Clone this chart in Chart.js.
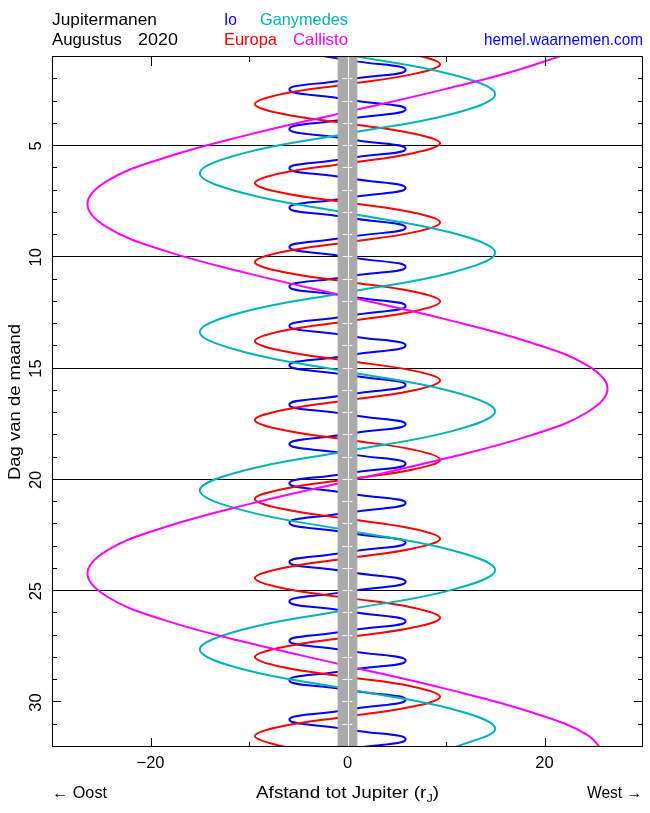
<!DOCTYPE html>
<html><head><meta charset="utf-8">
<script src="https://cdn.jsdelivr.net/npm/chart.js@4.4.1/dist/chart.umd.min.js"></script>
<style>html,body{margin:0;padding:0;background:#fff;}canvas{display:block;}</style>
</head><body>
<canvas id="c" width="650" height="813"></canvas>
<script>
// ---- data (day of month, distance to Jupiter in Jupiter radii; + = west) ----
const dayLabels = [5, 10, 15, 20, 25, 30];
const gridDays = [5, 10, 15, 20, 25];
const distLabels = [-20, 0, 20];

const ioPts = [
[0.70,-5.9],[1.14,0],[1.58,5.9],[2.02,0],
[2.46,-5.9],[2.91,0],[3.35,5.9],[3.79,0],
[4.23,-5.9],[4.68,0],[5.12,5.9],[5.56,0],
[6.00,-5.9],[6.44,0],[6.89,5.9],[7.33,0],
[7.77,-5.9],[8.21,0],[8.66,5.9],[9.10,0],
[9.54,-5.9],[9.98,0],[10.43,5.9],[10.87,0],
[11.31,-5.9],[11.75,0],[12.19,5.9],[12.64,0],
[13.08,-5.9],[13.52,0],[13.96,5.9],[14.41,0],
[14.85,-5.9],[15.29,0],[15.73,5.9],[16.17,0],
[16.62,-5.9],[17.06,0],[17.50,5.9],[17.94,0],
[18.39,-5.9],[18.83,0],[19.27,5.9],[19.71,0],
[20.15,-5.9],[20.60,0],[21.04,5.9],[21.48,0],
[21.92,-5.9],[22.37,0],[22.81,5.9],[23.25,0],
[23.69,-5.9],[24.13,0],[24.58,5.9],[25.02,0],
[25.46,-5.9],[25.90,0],[26.35,5.9],[26.79,0],
[27.23,-5.9],[27.67,0],[28.12,5.9],[28.56,0],
[29.00,-5.9],[29.44,0],[29.88,5.9],[30.33,0],
[30.77,-5.9],[31.21,0],[31.65,5.9],[32.10,0]
];

const europaPts = [
[0.00,-6.65],[0.44,0],[0.89,6.65],
[1.33,9.4],[1.77,6.65],[2.22,0],[2.66,-6.65],[3.11,-9.4],[3.55,-6.65],[3.99,0],[4.44,6.65],
[4.88,9.4],[5.32,6.65],[5.77,0],[6.21,-6.65],[6.66,-9.4],[7.10,-6.65],[7.54,0],[7.99,6.65],
[8.43,9.4],[8.88,6.65],[9.32,0],[9.76,-6.65],[10.21,-9.4],[10.65,-6.65],[11.10,0],[11.54,6.65],
[11.98,9.4],[12.43,6.65],[12.87,0],[13.31,-6.65],[13.76,-9.4],[14.20,-6.65],[14.65,0],[15.09,6.65],
[15.53,9.4],[15.98,6.65],[16.42,0],[16.87,-6.65],[17.31,-9.4],[17.75,-6.65],[18.20,0],[18.64,6.65],
[19.09,9.4],[19.53,6.65],[19.97,0],[20.42,-6.65],[20.86,-9.4],[21.30,-6.65],[21.75,0],[22.19,6.65],
[22.64,9.4],[23.08,6.65],[23.52,0],[23.97,-6.65],[24.41,-9.4],[24.86,-6.65],[25.30,0],[25.74,6.65],
[26.19,9.4],[26.63,6.65],[27.07,0],[27.52,-6.65],[27.96,-9.4],[28.41,-6.65],[28.85,0],[29.29,6.65],
[29.74,9.4],[30.18,6.65],[30.63,0],[31.07,-6.65],[31.51,-9.4],[31.96,-6.65],[32.40,0]
];

const ganymedePts = [
[-0.88,-15],[-0.01,-10.6],[0.90,0],[1.79,10.6],
[2.67,15],[3.56,10.6],[4.44,0],[5.33,-10.6],
[6.22,-15],[7.11,-10.6],[8.01,0],[8.90,10.6],
[9.79,15],[10.68,10.6],[11.57,0],[12.46,-10.6],
[13.35,-15],[14.24,-10.6],[15.14,0],[16.03,10.6],
[16.92,15],[17.81,10.6],[18.70,0],[19.59,-10.6],
[20.48,-15],[21.37,-10.6],[22.27,0],[23.16,10.6],
[24.05,15],[24.94,10.6],[25.83,0],[26.72,-10.6],
[27.62,-15],[28.51,-10.6],[29.40,0],[30.29,10.6],
[31.18,15],[32.07,10.6]
];

const callistoPts = [
[-0.69,26.4],[0.35,24.39],[1.39,18.67],[2.42,10.1],
[3.46,0],[4.50,-10.1],[5.54,-18.67],[6.57,-24.39],
[7.61,-26.4],[8.65,-24.39],[9.69,-18.67],[10.72,-10.1],
[11.76,0],[12.80,10.1],[13.84,18.67],[14.87,24.39],
[15.91,26.4],[16.95,24.39],[17.99,18.67],[19.02,10.1],
[20.06,0],[21.10,-10.1],[22.14,-18.67],[23.17,-24.39],
[24.21,-26.4],[25.25,-24.39],[26.29,-18.67],[27.32,-10.1],
[28.36,0],[29.40,10.1],[30.44,18.67],[31.47,24.39],
[32.51,26.4]
];

const FONT = '"Liberation Sans", Arial, Helvetica, sans-serif';
const FS = 16.5;
const COL = { io:'#0000ff', europa:'#ff0000', ganymede:'#00b4b4', callisto:'#ff00ff', band:'#aaaaaa' };

const toXY = arr => arr.map(p => ({ x: p[1], y: p[0] }));
const ds = (pts, color, tension, order) => ({
  data: toXY(pts), showLine: true, borderColor: color, borderWidth: 2,
  pointRadius: 0, pointHoverRadius: 0, tension: tension, fill: false, order: order
});

// draw text stretched/compressed horizontally to a target width
function fitText(ctx, txt, x, y, w, align) {
  const m = ctx.measureText(txt).width;
  const s = w / m;
  const x0 = align === 'right' ? x - w : (align === 'center' ? x - w / 2 : x);
  ctx.save();
  ctx.translate(x0, y); ctx.scale(s, 1);
  ctx.textAlign = 'left';
  ctx.fillText(txt, 0, 0);
  ctx.restore();
}

const overlay = {
  id: 'overlay',
  beforeDatasetsDraw(chart) {
    const { ctx, chartArea: a, scales: { y } } = chart;
    ctx.save();
    ctx.strokeStyle = '#000'; ctx.lineWidth = 1;
    gridDays.forEach(d => {
      const py = Math.round(y.getPixelForValue(d)) - 0.5;
      ctx.beginPath(); ctx.moveTo(a.left, py); ctx.lineTo(a.right, py); ctx.stroke();
    });
    ctx.restore();
  },
  afterDatasetsDraw(chart) {
    const { ctx, chartArea: a, scales: { x, y } } = chart;
    ctx.save();
    // Jupiter band
    const x0 = x.getPixelForValue(-1), x1 = x.getPixelForValue(1);
    ctx.fillStyle = COL.band;
    ctx.fillRect(x0, a.top, x1 - x0, a.bottom - a.top);
    ctx.strokeStyle = '#fff'; ctx.lineWidth = 1;
    const xc = Math.round(x.getPixelForValue(0)) + 0.5;
    ctx.beginPath(); ctx.moveTo(xc, a.top); ctx.lineTo(xc, a.bottom); ctx.stroke();
    const dx0 = x.getPixelForValue(-0.5), dx1 = x.getPixelForValue(0.5);
    for (let d = 2; d <= 31; d++) {
      const py = Math.round(y.getPixelForValue(d)) - 0.5;
      ctx.beginPath(); ctx.moveTo(dx0, py); ctx.lineTo(dx1, py); ctx.stroke();
    }
    // frame
    ctx.strokeStyle = '#000'; ctx.lineWidth = 1;
    ctx.strokeRect(a.left + 0.5, a.top - 0.5, a.right - a.left - 1, a.bottom - a.top);
    // x ticks (inside, top and bottom)
    [-20, -10, 10, 20].forEach(v => {
      const px = Math.round(x.getPixelForValue(v)) + 0.5;
      const len = (v % 20 === 0) ? 9 : 5;
      ctx.beginPath();
      ctx.moveTo(px, a.bottom); ctx.lineTo(px, a.bottom - len);
      ctx.moveTo(px, a.top); ctx.lineTo(px, a.top + len);
      ctx.stroke();
    });
    // y ticks (inside, left and right)
    for (let d = 2; d <= 31; d++) {
      if (gridDays.includes(d)) continue;
      const py = Math.round(y.getPixelForValue(d)) - 0.5;
      const len = (d % 5 === 0) ? 9 : 5;
      ctx.beginPath();
      ctx.moveTo(a.left, py); ctx.lineTo(a.left + len, py);
      ctx.moveTo(a.right, py); ctx.lineTo(a.right - len, py);
      ctx.stroke();
    }
    ctx.restore();
  },
  afterDraw(chart) {
    const { ctx, chartArea: a } = chart;
    ctx.save();
    ctx.font = FS + 'px ' + FONT;
    ctx.textBaseline = 'alphabetic';
    ctx.fillStyle = '#000';
    fitText(ctx, 'Jupitermanen', 52, 25, 105, 'left');
    fitText(ctx, 'Augustus', 52, 45, 70, 'left');
    fitText(ctx, '2020', 138, 45, 40, 'left');
    ctx.fillStyle = COL.io; fitText(ctx, 'Io', 224, 25, 13, 'left');
    ctx.fillStyle = COL.ganymede; fitText(ctx, 'Ganymedes', 260, 25, 88, 'left');
    ctx.fillStyle = COL.europa; fitText(ctx, 'Europa', 224, 45, 53, 'left');
    ctx.fillStyle = COL.callisto; fitText(ctx, 'Callisto', 293, 45, 55, 'left');
    ctx.fillStyle = '#0000ff'; fitText(ctx, 'hemel.waarnemen.com', 643, 45, 159, 'right');
    // bottom annotations
    ctx.fillStyle = '#000';
    fitText(ctx, '\u2190 Oost', 52, 798, 55, 'left');
    fitText(ctx, 'West \u2192', 642, 798, 55, 'right');
    // x axis title with subscript J, stretched to reference width
    const main = 'Afstand tot Jupiter (r';
    const w1 = ctx.measureText(main).width;
    ctx.font = '11px ' + FONT;
    const wJ = ctx.measureText('J').width;
    ctx.font = FS + 'px ' + FONT;
    const w3 = ctx.measureText(')').width;
    const total = w1 + wJ + w3;
    const target = 183, s = target / total;
    const cx = (a.left + a.right) / 2;
    ctx.save();
    ctx.translate(cx - target / 2, 798); ctx.scale(s, 1);
    ctx.textAlign = 'left';
    ctx.fillText(main, 0, 0);
    ctx.font = '11px ' + FONT;
    ctx.fillText('J', w1, 4);
    ctx.font = FS + 'px ' + FONT;
    ctx.fillText(')', w1 + wJ, 0);
    ctx.restore();
    // y axis title (rotated)
    ctx.save();
    ctx.translate(20, (a.top + a.bottom) / 2);
    ctx.rotate(-Math.PI / 2);
    ctx.font = FS + 'px ' + FONT;
    fitText(ctx, 'Dag van de maand', 0, 0, 156, 'center');
    ctx.restore();
    ctx.restore();
  }
};

new Chart(document.getElementById('c'), {
  type: 'scatter',
  data: {
    datasets: [
      ds(ioPts, COL.io, 0.55, 4),
      ds(europaPts, COL.europa, 0.4, 3),
      ds(ganymedePts, COL.ganymede, 0.4, 2),
      ds(callistoPts, COL.callisto, 0.4, 1)
    ]
  },
  options: {
    responsive: false, animation: false, devicePixelRatio: 1,
    layout: { padding: { top: 57, right: 7, left: 0, bottom: 0 } },
    plugins: { legend: { display: false }, tooltip: { enabled: false }, title: { display: false } },
    scales: {
      x: {
        type: 'linear', position: 'bottom', min: -30, max: 30,
        afterFit(s) { s.height = 66; },
        afterBuildTicks(s) { s.ticks = distLabels.map(v => ({ value: v })); },
        ticks: {
          autoSkip: false, maxRotation: 0, minRotation: 0, padding: 7,
          color: '#000', font: { family: FONT, size: FS },
          callback: v => v < 0 ? '\u2212' + (-v) : String(v)
        },
        grid: { display: false, drawTicks: false },
        border: { display: false }
      },
      y: {
        type: 'linear', position: 'left', reverse: true, min: 1, max: 32,
        afterFit(s) { s.width = 52; },
        afterBuildTicks(s) { s.ticks = dayLabels.map(v => ({ value: v })); },
        ticks: {
          autoSkip: false, minRotation: 90, maxRotation: 90, crossAlign: 'center', padding: 6,
          color: '#000', font: { family: FONT, size: FS },
          callback: v => String(v)
        },
        grid: { display: false, drawTicks: false },
        border: { display: false }
      }
    }
  },
  plugins: [overlay]
});
</script>
</body></html>
